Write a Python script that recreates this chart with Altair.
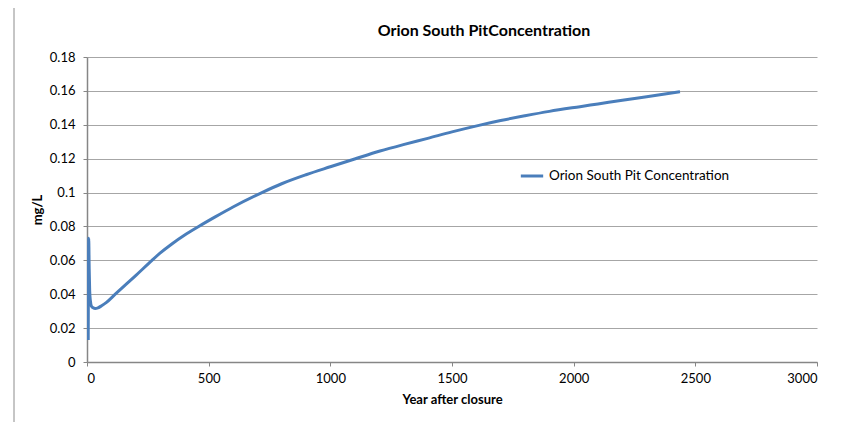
import altair as alt
import pandas as pd

years = [5, 7, 9, 11, 14, 18, 25, 34, 45, 60, 80, 116, 150, 200, 267, 300, 350, 400, 459, 525, 600, 719, 800,
         900, 1000, 1100, 1204, 1300, 1400, 1500, 1615, 1700, 1800, 1900, 2026, 2100, 2200, 2300, 2437]
conc = [0.013, 0.073, 0.055, 0.042, 0.036, 0.033, 0.0320, 0.0316, 0.0320, 0.0332, 0.0352, 0.0400, 0.0445, 0.0510,
        0.0600, 0.0642, 0.0698, 0.0748, 0.0800, 0.0855, 0.0915, 0.1000, 0.1052, 0.1105, 0.1152, 0.1198, 0.1245,
        0.1283, 0.1320, 0.1358, 0.1398, 0.1425, 0.1453, 0.1479, 0.1507, 0.1523, 0.1545, 0.1566, 0.1595]
series = "Orion South Pit Concentration"
title_text = "Orion South PitConcentration"

df = pd.DataFrame({"year": years, "conc": conc, "series": [series] * len(years)})

FONT = "Lato"
W, H = 730, 305

line = alt.Chart(df).mark_line(strokeWidth=3, clip=True, interpolate="monotone").encode(
    x=alt.X("year:Q", scale=alt.Scale(domain=[0, 3000], nice=False),
            axis=alt.Axis(values=[0, 500, 1000, 1500, 2000, 2500, 3000], format="d", title="Year after closure",
                          grid=False, tickSize=4, labelPadding=6, titlePadding=8)),
    y=alt.Y("conc:Q", scale=alt.Scale(domain=[0, 0.18], nice=False),
            axis=alt.Axis(values=[0, 0.02, 0.04, 0.06, 0.08, 0.1, 0.12, 0.14, 0.16, 0.18], format=".2~f",
                          title="mg/L", grid=True, tickSize=4, labelPadding=8, titlePadding=5)),
    color=alt.Color("series:N", scale=alt.Scale(range=["#4a7ebb"]),
                    legend=alt.Legend(title=None, orient="none", legendX=432, legendY=106,
                                      symbolType="stroke", symbolStrokeWidth=3, symbolSize=500,
                                      labelFontSize=13.5, labelFont=FONT, labelColor="#000000",
                                      labelLimit=400)),
)

border = alt.Chart(pd.DataFrame({"a": [0]})).mark_rect(
    fill=None, stroke="#8c8c8c", strokeWidth=1, clip=False
).encode(x=alt.value(-73), x2=alt.value(759), y=alt.value(-50), y2=alt.value(380))

title = alt.Chart(pd.DataFrame({"t": [title_text]})).mark_text(
    font=FONT, fontSize=16, fontWeight="bold", color="#000000", align="center", baseline="middle"
).encode(text="t:N", x=alt.value(397), y=alt.value(-26))

chart = alt.layer(border, line, title).properties(
    width=W, height=H,
    padding={"left": 79, "top": 49, "right": 20, "bottom": 60},
    autosize=alt.AutoSizeParams(type="none"),
).configure_view(stroke=None).configure_axis(
    domainColor="#868686", tickColor="#868686", gridColor="#a6a6a6", labelFont=FONT, titleFont=FONT,
    labelFontSize=13, titleFontSize=13, labelColor="#000000", titleColor="#000000", titleFontWeight="bold",
    domainWidth=1.5
)

chart.save("out.html", embed_options={"renderer": "svg", "actions": False})
